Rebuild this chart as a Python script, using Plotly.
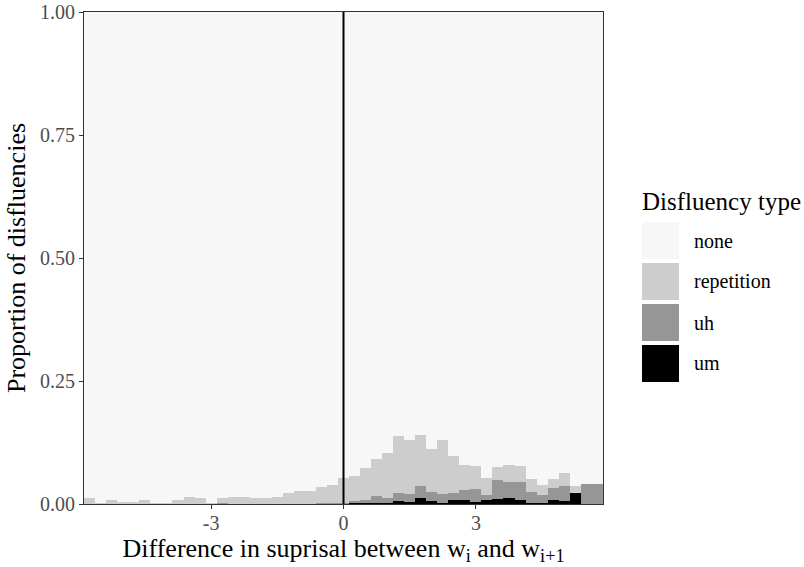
import plotly.graph_objects as go

# ---------------- data ----------------
bin_centers = [-5.75, -5.5, -5.25, -5.0, -4.75, -4.5, -4.25, -4.0, -3.75, -3.5, -3.25, -3.0,
               -2.75, -2.5, -2.25, -2.0, -1.75, -1.5, -1.25, -1.0, -0.75, -0.5, -0.25,
               0.0, 0.25, 0.5, 0.75, 1.0, 1.25, 1.5, 1.75, 2.0, 2.25, 2.5, 2.75, 3.0,
               3.25, 3.5, 3.75, 4.0, 4.25, 4.5, 4.75, 5.0, 5.25, 5.5, 5.75]

prop_um = [0, 0, 0, 0, 0, 0, 0, 0, 0, 0, 0, 0,
           0, 0, 0, 0, 0, 0, 0, 0, 0, 0, 0,
           0.0015, 0.003, 0.004, 0.002, 0.003, 0.007, 0.004, 0.012, 0.006, 0.003, 0.009, 0.009, 0.005,
           0.008, 0.010, 0.012, 0.008, 0.003, 0.002, 0.009, 0.006, 0.023, 0.0, 0.0]

prop_uh = [0, 0, 0, 0, 0, 0, 0, 0, 0, 0, 0, 0,
           0.002, 0, 0, 0, 0, 0, 0, 0.001, 0.001, 0.002, 0.002,
           0.0015, 0.004, 0.004, 0.014, 0.010, 0.016, 0.017, 0.025, 0.019, 0.017, 0.014, 0.019, 0.025,
           0.010, 0.039, 0.033, 0.037, 0.021, 0.017, 0.024, 0.030, 0.0, 0.041, 0.041]

prop_repetition = [0.013, 0.002, 0.009, 0.005, 0.004, 0.009, 0.002, 0.002, 0.008, 0.015, 0.012, 0.002,
                   0.011, 0.015, 0.015, 0.013, 0.013, 0.015, 0.023, 0.026, 0.026, 0.032, 0.036,
                   0.050, 0.050, 0.066, 0.075, 0.090, 0.116, 0.110, 0.104, 0.086, 0.111, 0.074, 0.052, 0.047,
                   0.035, 0.026, 0.035, 0.033, 0.027, 0.019, 0.018, 0.028, 0.013, 0.0, 0.0]

prop_none = [1 - a - b - c for a, b, c in zip(prop_um, prop_uh, prop_repetition)]

type_labels = ["none", "repetition", "uh", "um"]
type_colors = ["#F7F7F7", "#CDCDCD", "#969696", "#000000"]

x_tick_vals = [-3, 0, 3]
x_tick_text = ["-3", "0", "3"]
y_tick_vals = [0, 0.25, 0.5, 0.75, 1.0]
y_tick_text = ["0.00", "0.25", "0.50", "0.75", "1.00"]
vline_x = 0
bin_width = 0.25

# ---------------- figure ----------------
W, H = 804, 567
L, R, T, B = 84, 201, 12, 63
pw, ph = W - L - R, H - T - B
FONT = "Liberation Serif, Times New Roman, serif"

fig = go.Figure()
series = {"um": prop_um, "uh": prop_uh, "repetition": prop_repetition, "none": prop_none}
for name in ["um", "uh", "repetition", "none"]:
    col = type_colors[type_labels.index(name)]
    fig.add_trace(go.Bar(x=bin_centers, y=series[name], width=bin_width, name=name,
                         marker=dict(color=col, line=dict(width=0)), showlegend=False))

fig.add_vline(x=vline_x, line=dict(color="black", width=2))

fig.update_layout(
    width=W, height=H, barmode="stack", bargap=0,
    margin=dict(l=L, r=R, t=T, b=B, pad=0, autoexpand=False),
    paper_bgcolor="white", plot_bgcolor="white",
    font=dict(family=FONT, color="black"),
    xaxis=dict(range=[-5.88, 5.88], tickvals=x_tick_vals, ticktext=x_tick_text,
               ticks="outside", ticklen=4, tickwidth=1, tickcolor="#333333",
               showline=True, linecolor="#333333", linewidth=1, mirror=True,
               showgrid=False, zeroline=False, automargin=False, ticklabelstandoff=-3,
               tickfont=dict(size=20, color="#4D4D4D", family=FONT),
               title=dict(text="Difference in suprisal between w<sub>i</sub> and w<sub>i+1</sub>",
                          font=dict(size=26, color="black", family=FONT), standoff=0)),
    yaxis=dict(range=[0, 1], tickvals=y_tick_vals, ticktext=y_tick_text,
               ticks="outside", ticklen=4, tickwidth=1, tickcolor="#333333",
               showline=True, linecolor="#333333", linewidth=1, mirror=True,
               showgrid=False, zeroline=False, automargin=False,
               tickfont=dict(size=20, color="#4D4D4D", family=FONT),
               title=dict(text="Proportion of disfluencies",
                          font=dict(size=26, color="black", family=FONT), standoff=6)),
)

# manual legend (ggplot-style large keys)
def px_x(px):
    return (px - L) / pw

def px_y(py):
    return (H - B - py) / ph

fig.add_annotation(x=px_x(640), y=px_y(201), xref="paper", yref="paper", text="Disfluency type",
                   showarrow=False, xanchor="left", yanchor="middle",
                   font=dict(size=25, color="black", family=FONT))
key_top0, key_size, key_step = 222, 37, 41
for i, (lab, col) in enumerate(zip(type_labels, type_colors)):
    top = key_top0 + i * key_step
    fig.add_shape(type="rect", xref="paper", yref="paper",
                  x0=px_x(642), x1=px_x(642 + key_size), y0=px_y(top + key_size), y1=px_y(top),
                  fillcolor=col, line=dict(width=0))
    fig.add_annotation(x=px_x(692), y=px_y(top + key_size / 2), xref="paper", yref="paper",
                       text=lab, showarrow=False, xanchor="left", yanchor="middle",
                       font=dict(size=20, color="black", family=FONT))

fig.write_html("out.html", config={"displayModeBar": False},
               post_script="document.body.style.margin='0';document.body.style.overflow='hidden';")
